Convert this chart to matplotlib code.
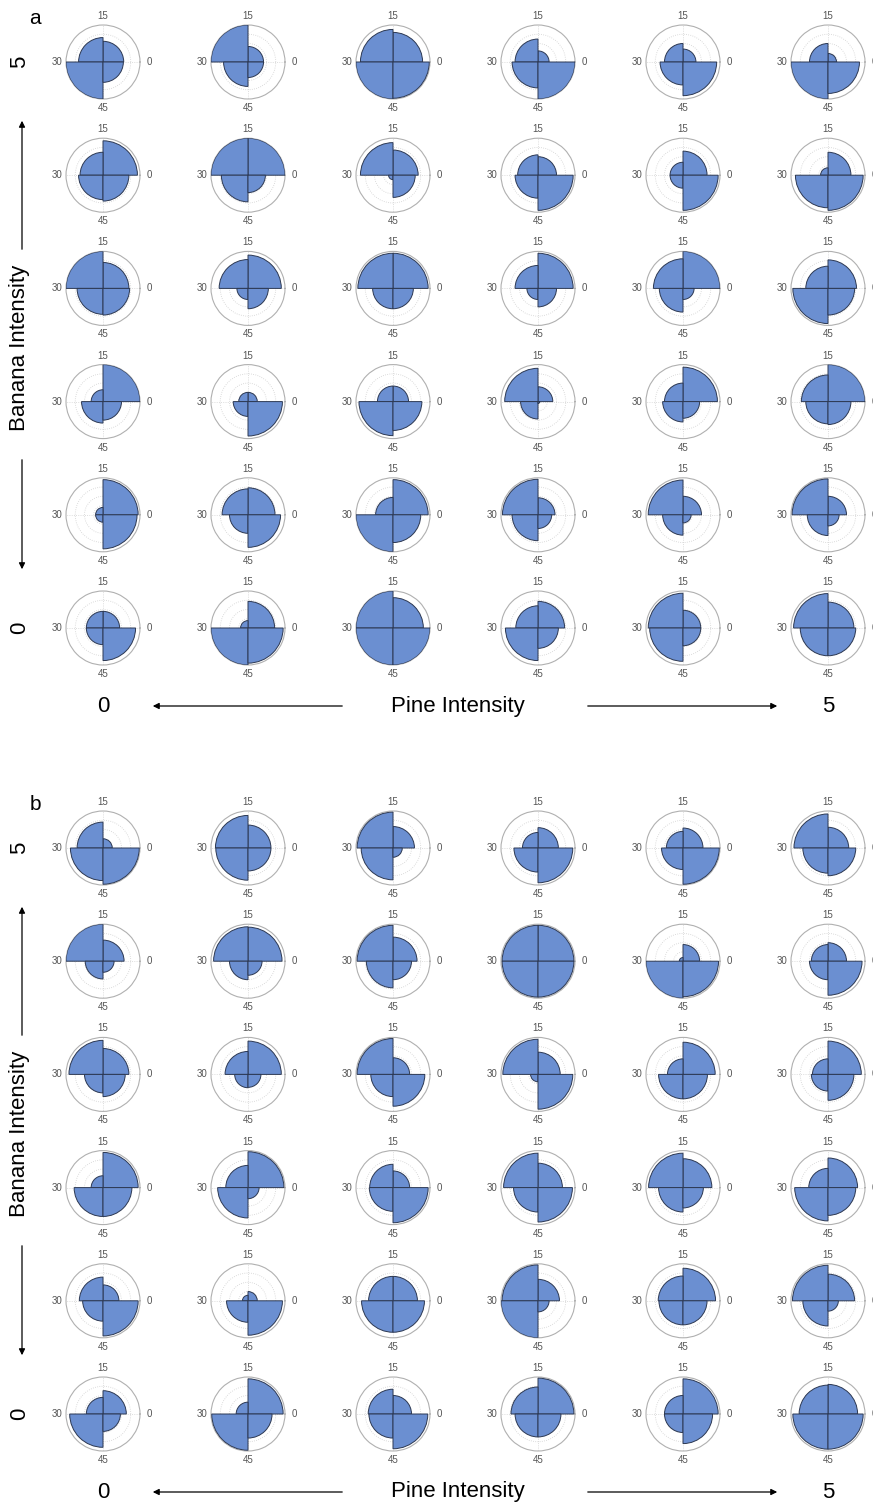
import matplotlib.pyplot as plt
import numpy as np

plt.rcParams['font.family'] = ['Liberation Sans', 'DejaVu Sans']

W, H = 873, 1505

# quadrant bar heights (0..1) for each cell: [0-15, 15-30, 30-45, 45-60]
# columns go Pine 0 -> 5, one list per Banana level
a_banana5 = [[0.56, 0.66, 1.0, 0.55], [0.42, 1.0, 0.66, 0.42], [0.8, 0.88, 1.0, 0.98],
             [0.3, 0.62, 0.7, 1.0], [0.35, 0.5, 0.62, 0.91], [0.23, 0.5, 1.0, 0.85]]
a_banana4 = [[0.93, 0.62, 0.66, 0.7], [1.0, 1.0, 0.72, 0.47], [0.68, 0.88, 0.12, 0.6],
             [0.5, 0.55, 0.62, 0.95], [0.65, 0.35, 0.35, 0.95], [0.62, 0.2, 0.88, 0.95]]
a_banana3 = [[0.7, 1.0, 0.7, 0.72], [0.9, 0.78, 0.3, 0.55], [0.95, 0.95, 0.55, 0.55],
             [0.95, 0.62, 0.3, 0.5], [1.0, 0.8, 0.64, 0.3], [0.77, 0.6, 0.95, 0.72]]
a_banana2 = [[1.0, 0.32, 0.58, 0.5], [0.25, 0.25, 0.4, 0.93], [0.42, 0.42, 0.92, 0.78],
             [0.4, 0.9, 0.47, 0.05], [0.93, 0.5, 0.55, 0.45], [1.0, 0.72, 0.6, 0.62]]
a_banana1 = [[0.95, 0.2, 0.2, 0.92], [0.73, 0.7, 0.5, 0.88], [0.95, 0.47, 1.0, 0.75],
             [0.46, 0.96, 0.7, 0.37], [0.5, 0.94, 0.55, 0.22], [0.5, 0.97, 0.56, 0.3]]
a_banana0 = [[0.45, 0.45, 0.45, 0.88], [0.72, 0.2, 1.0, 0.95], [0.82, 1.0, 1.0, 1.0],
             [0.72, 0.6, 0.88, 0.55], [0.48, 0.94, 0.9, 0.48], [0.7, 0.93, 0.75, 0.75]]

b_banana5 = [[0.25, 0.7, 0.88, 0.98], [0.62, 0.88, 0.87, 0.62], [0.58, 0.97, 0.86, 0.25],
             [0.55, 0.42, 0.65, 0.94], [0.54, 0.45, 0.58, 0.98], [0.56, 0.92, 0.68, 0.75]]
b_banana4 = [[0.57, 1.0, 0.48, 0.3], [0.92, 0.93, 0.5, 0.38], [0.65, 0.97, 0.72, 0.5],
             [0.97, 0.97, 0.97, 0.97], [0.45, 0.1, 1.0, 0.96], [0.5, 0.45, 0.5, 0.92]]
b_banana3 = [[0.7, 0.92, 0.5, 0.6], [0.9, 0.62, 0.36, 0.35], [0.45, 0.97, 0.6, 0.86],
             [0.6, 0.95, 0.2, 0.94], [0.87, 0.42, 0.66, 0.66], [0.9, 0.42, 0.45, 0.7]]
b_banana2 = [[0.95, 0.32, 0.78, 0.78], [0.97, 0.6, 0.82, 0.3], [0.45, 0.63, 0.64, 0.95],
             [0.66, 0.93, 0.66, 0.93], [0.78, 0.93, 0.66, 0.55], [0.8, 0.52, 0.9, 0.75]]
b_banana1 = [[0.43, 0.64, 0.55, 0.95], [0.25, 0.15, 0.58, 0.93], [0.66, 0.66, 0.85, 0.85],
             [0.58, 0.97, 1.0, 0.3], [0.88, 0.67, 0.65, 0.65], [0.72, 0.96, 0.68, 0.28]]
b_banana0 = [[0.63, 0.45, 0.9, 0.47], [0.95, 0.32, 0.98, 0.65], [0.5, 0.67, 0.65, 0.94],
             [0.97, 0.73, 0.62, 0.62], [0.95, 0.5, 0.5, 0.8], [0.8, 0.78, 0.95, 0.95]]

panel_a = [a_banana5, a_banana4, a_banana3, a_banana2, a_banana1, a_banana0]
panel_b = [b_banana5, b_banana4, b_banana3, b_banana2, b_banana1, b_banana0]

angle_labels = ['0', '15', '30', '45']
quad_theta = np.radians([45, 135, 225, 315])

col_x = [103, 248, 393, 538, 683, 828]
row_step = 113.2
radius = 37


def fx(x):
    return x / W


def fy(y):
    return 1 - y / H


def draw_panel(fig, rows, top, letter):
    for r, row in enumerate(rows):
        cy = top + r * row_step
        for c, vals in enumerate(row):
            cx = col_x[c]
            ax = fig.add_axes([fx(cx - radius), fy(cy + radius), 2 * radius / W, 2 * radius / H],
                              projection='polar')
            ax.bar(quad_theta, vals, width=np.pi / 2, color='#6b8fd1',
                   edgecolor='#2c3852', linewidth=0.7, zorder=3)
            ax.set_ylim(0, 1)
            ax.set_xticks(np.radians([0, 90, 180, 270]))
            ax.set_xticklabels(angle_labels, fontsize=7, color='#555555')
            ax.set_yticks([0.25, 0.5, 0.75])
            ax.set_yticklabels([])
            ax.tick_params(axis='x', pad=-4)
            ax.grid(True, color='#d0d0d0', linestyle=':', linewidth=0.6)
            ax.spines['polar'].set_color('#b0b0b0')
            ax.spines['polar'].set_linewidth(0.8)

    fig.text(fx(35), fy(top - 44), letter, fontsize=15, ha='center', va='center')

    # vertical axis (Banana)
    fig.text(fx(20), fy(top), '5', fontsize=16, rotation=90, ha='center', va='center')
    fig.text(fx(20), fy(top + 5 * row_step), '0', fontsize=16, rotation=90, ha='center', va='center')
    fig.text(fx(20), fy(top + 286), 'Banana Intensity', fontsize=16, rotation=90,
             ha='center', va='center')
    arrow = dict(arrowstyle='-|>', color='black', lw=0.9, mutation_scale=9)
    fig.add_artist(plt.Annotation('', xy=(fx(22), fy(top + 56)), xytext=(fx(22), fy(top + 190)),
                                  xycoords='figure fraction', arrowprops=arrow))
    fig.add_artist(plt.Annotation('', xy=(fx(22), fy(top + 510)), xytext=(fx(22), fy(top + 395)),
                                  xycoords='figure fraction', arrowprops=arrow))

    # horizontal axis (Pine)
    by = top + 644
    fig.text(fx(col_x[0]), fy(by), '0', fontsize=16, ha='center', va='center')
    fig.text(fx(col_x[-1]), fy(by), '5', fontsize=16, ha='center', va='center')
    fig.text(fx(458), fy(by), 'Pine Intensity', fontsize=16, ha='center', va='center')
    fig.add_artist(plt.Annotation('', xy=(fx(150), fy(by)), xytext=(fx(345), fy(by)),
                                  xycoords='figure fraction', arrowprops=arrow))
    fig.add_artist(plt.Annotation('', xy=(fx(780), fy(by)), xytext=(fx(585), fy(by)),
                                  xycoords='figure fraction', arrowprops=arrow))


fig = plt.figure(figsize=(W / 100, H / 100), dpi=100)
draw_panel(fig, panel_a, 62, 'a')
draw_panel(fig, panel_b, 848, 'b')
fig.savefig('out.png', dpi=100)
